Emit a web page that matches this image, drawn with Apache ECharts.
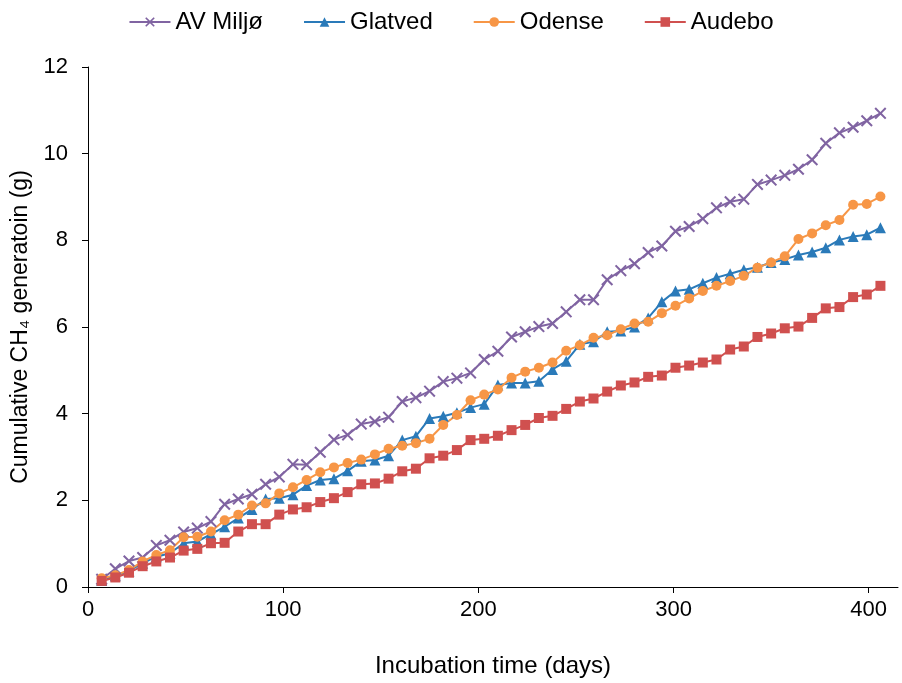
<!DOCTYPE html>
<html>
<head>
<meta charset="utf-8">
<script src="https://cdn.jsdelivr.net/npm/echarts@6/dist/echarts.min.js"></script>
<style>
  html, body { margin: 0; padding: 0; background: #fff; }
  #cumulative-chart { width: 902px; height: 683px; }
</style>
</head>
<body>
<div id="cumulative-chart"></div>
<script>
// incubation days (weekly readings)
var days = [7, 14, 21, 28, 35, 42, 49, 56, 63, 70, 77, 84, 91, 98, 105, 112, 119, 126, 133, 140,
  147, 154, 161, 168, 175, 182, 189, 196, 203, 210, 217, 224, 231, 238, 245, 252, 259, 266, 273, 280,
  287, 294, 301, 308, 315, 322, 329, 336, 343, 350, 357, 364, 371, 378, 385, 392, 399, 406];

var avMiljo = [0.18, 0.42, 0.60, 0.68, 0.96, 1.08, 1.27, 1.36, 1.51, 1.91, 2.03, 2.14, 2.37, 2.54, 2.83, 2.82, 3.11, 3.40, 3.51, 3.76,
  3.82, 3.92, 4.28, 4.37, 4.52, 4.74, 4.82, 4.94, 5.25, 5.44, 5.77, 5.89, 6.01, 6.08, 6.35, 6.63, 6.63, 7.09, 7.30, 7.46,
  7.72, 7.87, 8.21, 8.32, 8.50, 8.75, 8.89, 8.95, 9.29, 9.39, 9.50, 9.64, 9.86, 10.24, 10.48, 10.61, 10.76, 10.93];

var glatved = [0.15, 0.26, 0.37, 0.55, 0.70, 0.78, 1.01, 1.05, 1.22, 1.39, 1.59, 1.79, 2.03, 2.05, 2.13, 2.34, 2.47, 2.50, 2.68, 2.90,
  2.93, 3.03, 3.39, 3.48, 3.89, 3.94, 4.02, 4.14, 4.22, 4.66, 4.71, 4.71, 4.75, 5.02, 5.21, 5.60, 5.66, 5.89, 5.91, 6.00,
  6.21, 6.58, 6.83, 6.87, 7.01, 7.14, 7.23, 7.32, 7.38, 7.49, 7.56, 7.66, 7.73, 7.83, 8.01, 8.09, 8.13, 8.29];

var odense = [0.20, 0.27, 0.39, 0.59, 0.74, 0.85, 1.15, 1.16, 1.28, 1.54, 1.67, 1.88, 1.93, 2.16, 2.30, 2.47, 2.65, 2.76, 2.86, 2.94,
  3.06, 3.19, 3.26, 3.32, 3.42, 3.74, 3.97, 4.31, 4.44, 4.56, 4.83, 4.97, 5.06, 5.18, 5.45, 5.58, 5.75, 5.81, 5.95, 6.08,
  6.12, 6.32, 6.49, 6.66, 6.83, 6.95, 7.06, 7.18, 7.37, 7.49, 7.63, 8.03, 8.16, 8.35, 8.47, 8.82, 8.84, 9.01];

var audebo = [0.14, 0.22, 0.33, 0.48, 0.59, 0.68, 0.84, 0.88, 1.01, 1.02, 1.28, 1.45, 1.45, 1.67, 1.79, 1.84, 1.96, 2.05, 2.19, 2.37,
  2.39, 2.50, 2.67, 2.73, 2.97, 3.03, 3.16, 3.39, 3.42, 3.49, 3.62, 3.74, 3.90, 3.95, 4.11, 4.28, 4.35, 4.51, 4.65, 4.72,
  4.85, 4.88, 5.06, 5.11, 5.18, 5.25, 5.48, 5.55, 5.77, 5.85, 5.97, 6.01, 6.21, 6.43, 6.46, 6.69, 6.75, 6.95];

var xTicks = [0, 100, 200, 300, 400];

var font = 'Liberation Sans, Arial, sans-serif';
var crossPath = 'path://M0,1.2L1.2,0L5,3.8L8.8,0L10,1.2L6.2,5L10,8.8L8.8,10L5,6.2L1.2,10L0,8.8L3.8,5Z';

function pairs(ys) {
  var out = [];
  for (var i = 0; i < days.length; i++) out.push([days[i], ys[i]]);
  return out;
}

function makeSeries(name, ys, color, symbol, size) {
  return {
    name: name,
    type: 'line',
    data: pairs(ys),
    symbol: symbol,
    symbolSize: size,
    showAllSymbol: true,
    lineStyle: { color: color, width: 2 },
    itemStyle: { color: color },
    emphasis: { disabled: true },
    animation: false
  };
}

var myChart = echarts.init(document.getElementById('cumulative-chart'));

var option = {
  backgroundColor: '#fff',
  legend: {
    top: 5,
    left: 'center',
    itemWidth: 41,
    itemHeight: 12,
    itemGap: 40,
    textStyle: { fontSize: 24, color: '#000', fontFamily: font }
  },
  grid: { left: 88, right: 4, top: 67, bottom: 96 },
  xAxis: {
    type: 'value',
    min: 0,
    max: 415,
    interval: 100,
    name: 'Incubation time (days)',
    nameLocation: 'middle',
    nameGap: 67,
    nameTextStyle: { fontSize: 24, color: '#000', fontFamily: font },
    splitLine: { show: false },
    axisLine: { lineStyle: { color: '#000', width: 1 } },
    axisTick: { length: 6, lineStyle: { color: '#000' }, customValues: xTicks },
    axisLabel: { fontSize: 22, color: '#000', fontFamily: font, margin: 12, customValues: xTicks }
  },
  yAxis: {
    type: 'value',
    min: 0,
    max: 12,
    interval: 2,
    name: 'Cumulative CH\u2084 generatoin (g)',
    nameLocation: 'middle',
    nameGap: 53,
    nameTextStyle: { fontSize: 23, color: '#000', fontFamily: font },
    splitLine: { show: false },
    axisLine: { show: true, lineStyle: { color: '#000', width: 1 } },
    axisTick: { show: true, length: 6, lineStyle: { color: '#000' } },
    axisLabel: { fontSize: 22, color: '#000', fontFamily: font, margin: 20 }
  },
  series: [
    makeSeries('AV Miljø', avMiljo, '#8064A2', crossPath, 12),
    makeSeries('Glatved', glatved, '#2A7AB9', 'triangle', 11),
    makeSeries('Odense', odense, '#F79646', 'circle', 10),
    makeSeries('Audebo', audebo, '#D0504F', 'rect', 10)
  ]
};

myChart.setOption(option);
</script>
</body>
</html>
